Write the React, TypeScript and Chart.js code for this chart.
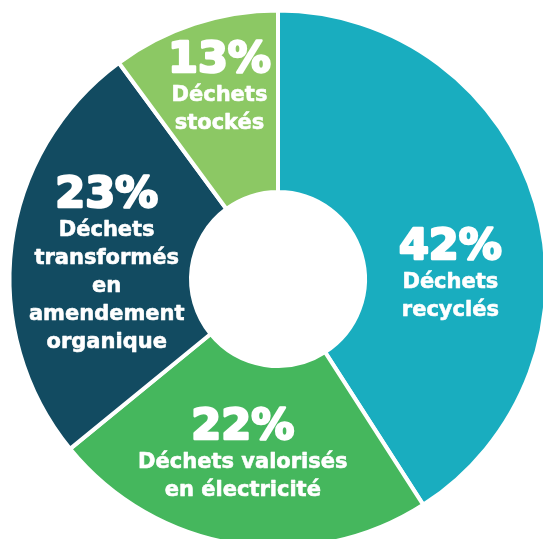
import React, { useEffect, useRef } from "react";
import { Chart, registerables } from "chart.js";

Chart.register(...registerables);

const categories = [
  "Déchets recyclés",
  "Déchets valorisés en électricité",
  "Déchets transformés en amendement organique",
  "Déchets stockés",
];
// printed percentages
const percentLabels = [42, 22, 23, 13];
// slice sizes as drawn in the picture (angular share, %)
const sliceSizes = [40.9, 23.2, 25.8, 10.1];
const colors = ["#19adbf", "#45b75d", "#124b61", "#8cc864"];
const labelLines = [
  ["Déchets", "recyclés"],
  ["Déchets valorisés", "en électricité"],
  ["Déchets", "transformés", "en", "amendement", "organique"],
  ["Déchets", "stockés"],
];
// label anchor as fraction of outer radius (x, y) from the centre
const labelAnchors = [
  [0.642, -0.075],
  [-0.131, 0.597],
  [-0.638, -0.27],
  [-0.218, -0.77],
];

const labelPlugin = {
  id: "sliceLabels",
  afterDatasetsDraw(chart: any) {
    const meta = chart.getDatasetMeta(0);
    const ctx = chart.ctx as CanvasRenderingContext2D;
    ctx.save();
    ctx.fillStyle = "#ffffff";
    ctx.strokeStyle = "#ffffff";
    ctx.textAlign = "center";
    ctx.textBaseline = "alphabetic";
    ctx.lineJoin = "round";
    meta.data.forEach((arc: any, i: number) => {
      const { x, y, outerRadius } = arc.getProps(["x", "y", "outerRadius"], true);
      const cx = x + labelAnchors[i][0] * outerRadius;
      const cy = y + labelAnchors[i][1] * outerRadius;
      ctx.font = "bold 43px 'DejaVu Sans'";
      ctx.lineWidth = 2.5;
      const pct = percentLabels[i] + "%";
      ctx.fillText(pct, cx, cy);
      ctx.strokeText(pct, cx, cy);
      ctx.font = "bold 21px 'DejaVu Sans'";
      ctx.lineWidth = 0.6;
      labelLines[i].forEach((line, j) => {
        const ly = cy + 29 + j * 28;
        ctx.fillText(line, cx, ly);
        ctx.strokeText(line, cx, ly);
      });
    });
    ctx.restore();
  },
};

export default function App() {
  const ref = useRef<HTMLCanvasElement>(null);
  useEffect(() => {
    if (!ref.current) return;
    const chart = new Chart(ref.current, {
      type: "doughnut",
      data: {
        labels: categories,
        datasets: [
          {
            data: sliceSizes,
            backgroundColor: colors,
            borderColor: "#ffffff",
            borderWidth: 4,
          },
        ],
      },
      options: {
        responsive: false,
        animation: false,
        cutout: "32.4%",
        layout: { padding: 7.5 },
        plugins: {
          legend: { display: false },
          tooltip: { enabled: false },
        },
      },
      plugins: [labelPlugin],
    });
    return () => chart.destroy();
  }, []);
  return (
    <div style={{ position: "fixed", left: 0, top: 0, width: "100vw", height: "100vh", overflow: "hidden", background: "#fff" }}>
      <canvas ref={ref} width={556} height={558} style={{ position: "absolute", left: 0, top: 0 }} />
    </div>
  );
}
